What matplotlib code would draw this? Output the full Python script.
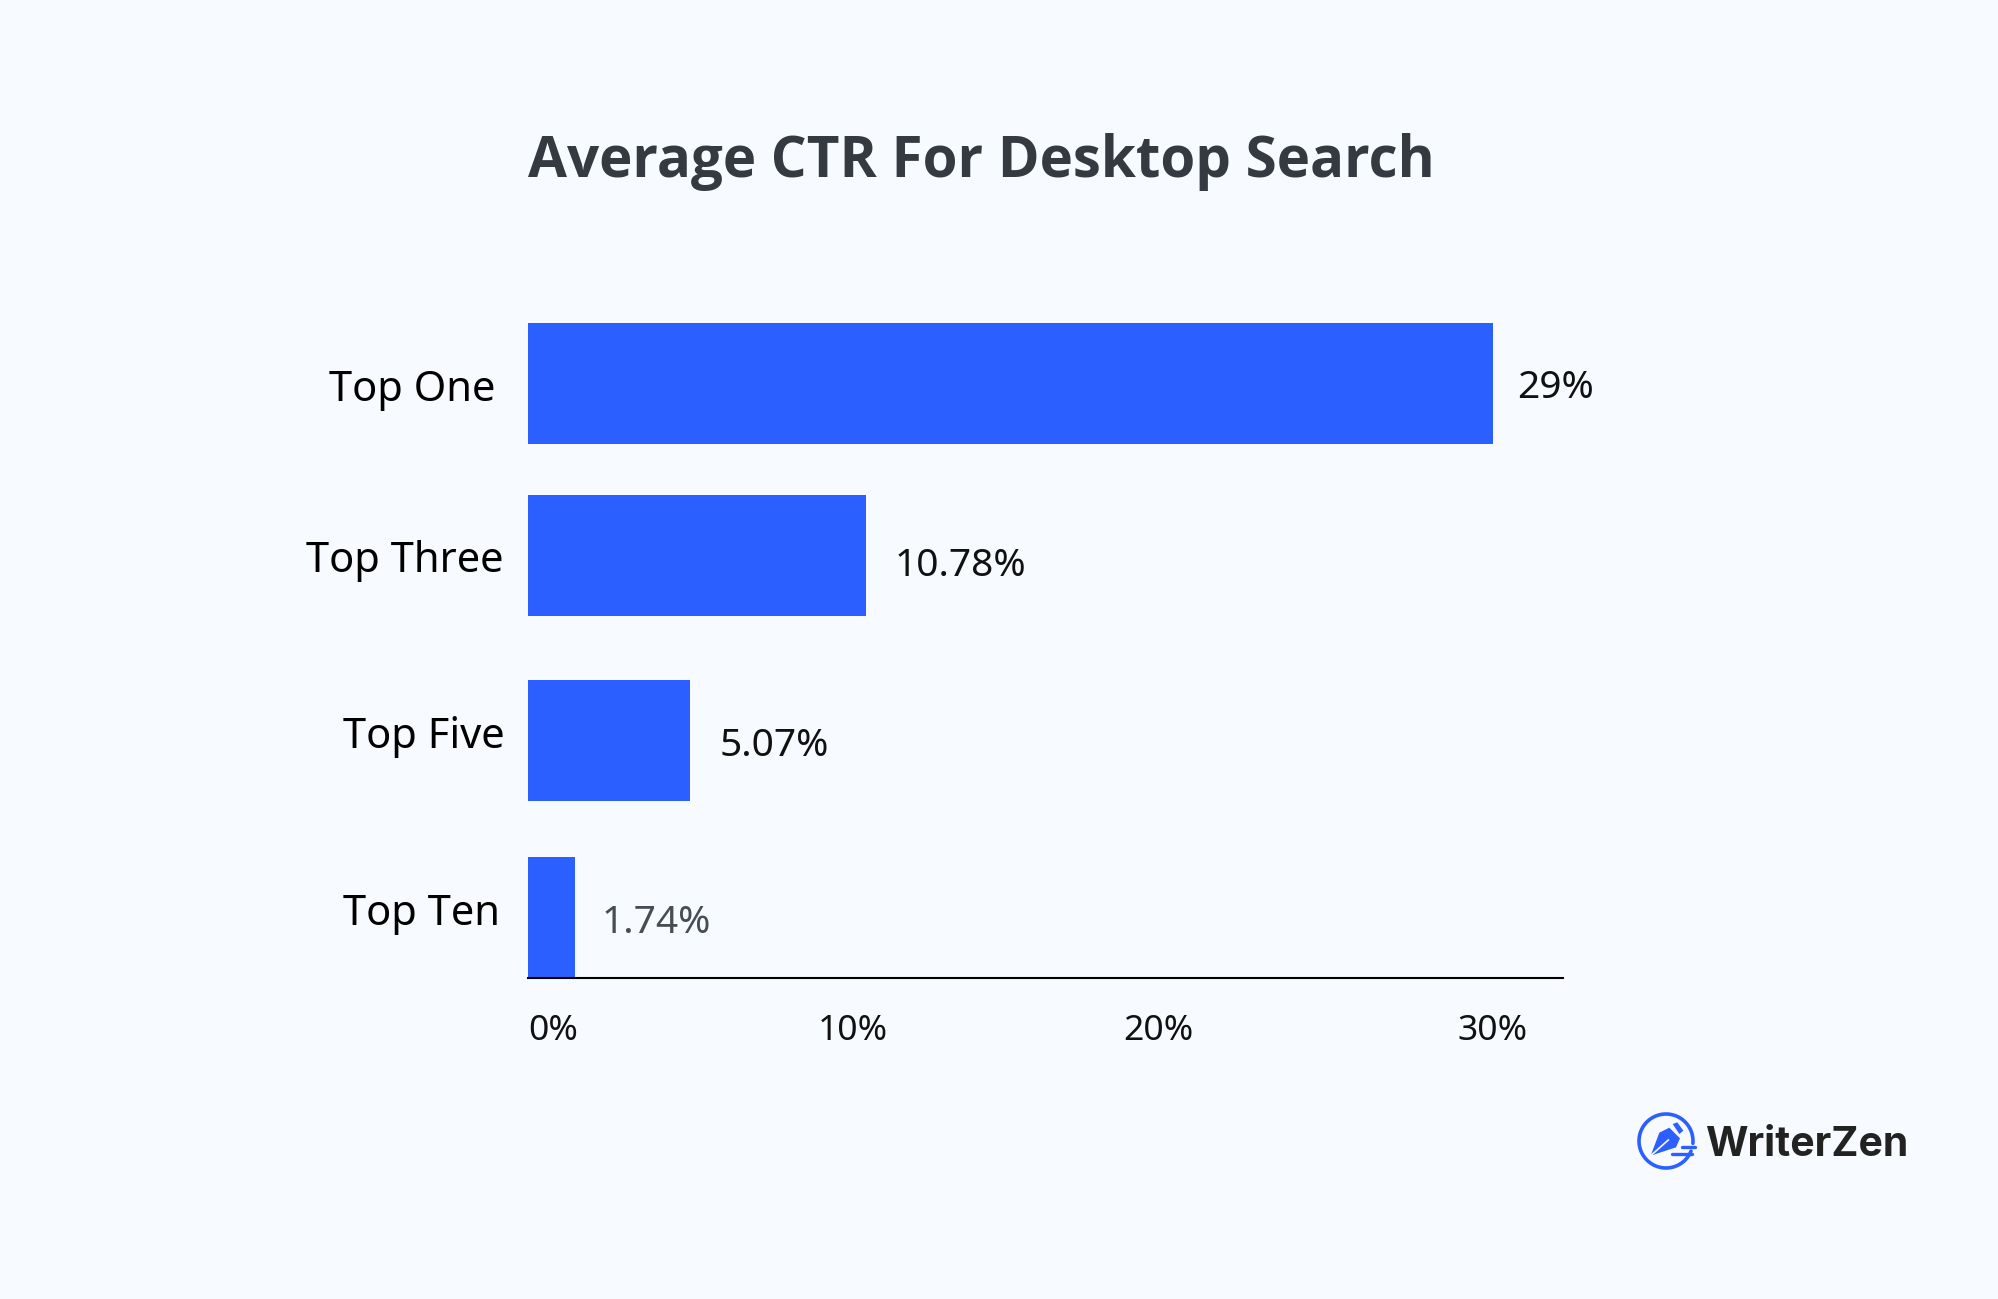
import numpy as np
import matplotlib
matplotlib.use("Agg")
import matplotlib.pyplot as plt
from matplotlib.patches import Polygon
from matplotlib.transforms import ScaledTranslation

W, H = 1999, 1299
BG = "#F7FAFF"
BLUE = "#2B5FFF"

categories = ["Top One", "Top Three", "Top Five", "Top Ten"]
# bar lengths as read against the axis, the printed labels differ from them
bar_values = [30.0, 10.5, 5.05, 1.45]
value_labels = ["29%", "10.78%", "5.07%", "1.74%"]
x_ticks = [0, 10, 20, 30]
x_tick_labels = ["0%", "10%", "20%", "30%"]

# the rows are not quite evenly spaced in the original
row_pos = [0, 1, 2.076, 3.102]
# small hand placed offsets of the labels, in pixels (x, y)
cat_right_px = [495, 504, 505, 500]
cat_y_off = [6.5, 5, -3.5, -3]
val_x_off = [24, 29, 29, 27]
val_y_off = [5, 11, 5, 6]
val_colors = ["#111111", "#111111", "#111111", "#474D55"]
tick_x_off = [0, 3, -13, 0]

plt.rcParams["font.family"] = ["Noto Sans", "DejaVu Sans"]

fig = plt.figure(figsize=(W / 100, H / 100), dpi=100, facecolor=BG)

left, right, top, bottom = 528, 1563, 297.5, 978
ax = fig.add_axes([left / W, 1 - bottom / H, (right - left) / W, (bottom - top) / H])
ax.set_facecolor(BG)
ax.barh(row_pos, bar_values, height=0.703, color=BLUE)
ax.set_xlim(0, 32.18)
ax.set_ylim(3.457, -0.5)

for s in ["top", "right", "left"]:
    ax.spines[s].set_visible(False)
ax.spines["bottom"].set_linewidth(1.5)
ax.spines["bottom"].set_color("black")
ax.set_yticks([])
ax.set_xticks(x_ticks)
ax.set_xticklabels(x_tick_labels, fontsize=25.5, color="#111111")
ax.tick_params(axis="x", length=0, pad=26)
for lab, off in zip(ax.get_xticklabels(), tick_x_off):
    lab.set_transform(lab.get_transform() + ScaledTranslation(off / 100, 0, fig.dpi_scale_trans))
ax.get_xticklabels()[0].set_ha("left")

for i, name in enumerate(categories):
    y_px = 1 - (top + (row_pos[i] + 0.5) * 172 + cat_y_off[i]) / H
    fig.text(cat_right_px[i] / W, y_px, name, fontsize=30, color="black", ha="right", va="center")
    ax.annotate(value_labels[i], xy=(bar_values[i], row_pos[i]),
                xytext=(val_x_off[i] * 0.72, -val_y_off[i] * 0.72), textcoords="offset points",
                fontsize=28, color=val_colors[i], ha="left", va="center")

fig.text(528 / W, 1 - 162 / H, "Average CTR For Desktop Search", fontsize=40.7, fontweight="bold",
         family=["Open Sans", "DejaVu Sans"], color="#343A40", ha="left", va="center")

# logo, drawn on an overlay in pixel coordinates
logo = fig.add_axes([0, 0, 1, 1], facecolor="none")
logo.set_xlim(0, W)
logo.set_ylim(H, 0)
logo.axis("off")


def crop(x, y):
    # coordinates measured on the 3x zoom of the logo
    return 1600 + x / 3, 1090 + y / 3


t = np.radians(np.linspace(22, 365, 200))
cx, cy, r = 1666, 1141, 27
logo.plot(cx + r * np.cos(t), cy + r * np.sin(t), color=BLUE, lw=2.6, solid_capstyle="round")
nib = [crop(152, 197), crop(178, 128), crop(208, 113), crop(240, 145), crop(228, 172)]
logo.add_patch(Polygon(nib, closed=True, color=BLUE, lw=0))
cap = [crop(218, 102), crop(232, 97), crop(250, 122), crop(238, 132)]
logo.add_patch(Polygon(cap, closed=True, color=BLUE, lw=0))
slit = [crop(152, 197), crop(205, 150)]
logo.plot(*zip(*slit), color=BG, lw=1.2)
for a, b in [((245, 172), (285, 172)), ((215, 193), (275, 193))]:
    logo.plot(*zip(crop(*a), crop(*b)), color=BLUE, lw=2.4, solid_capstyle="round")
logo.text(1705, 1145, "WriterZen", fontsize=29.5, fontweight="bold", family=["Inter", "DejaVu Sans"],
          color="#222222", ha="left", va="center")

fig.savefig("out.png", dpi=100, facecolor=BG)
